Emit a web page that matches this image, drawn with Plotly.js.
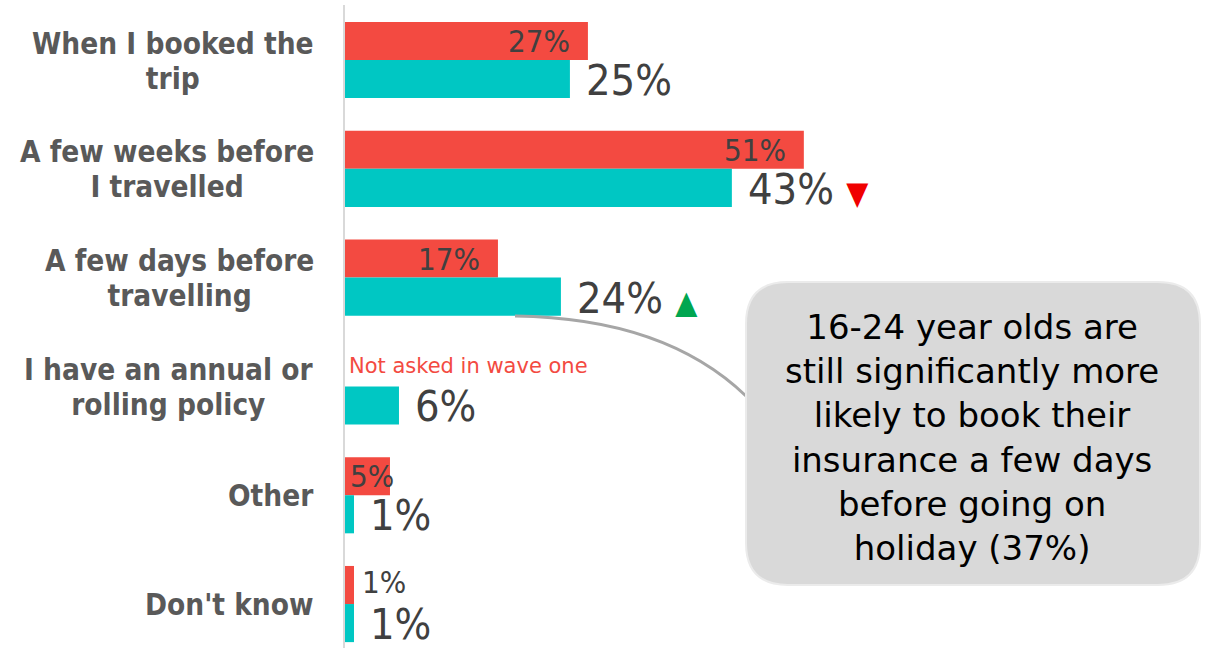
<!DOCTYPE html>
<html>
<head>
<meta charset="utf-8">
<script src="https://cdn.plot.ly/plotly-3.0.1.min.js"></script>
<style>html,body{margin:0;padding:0;background:#fff;}#chart{width:1206px;height:648px;}</style>
</head>
<body>
<div id="chart"></div>
<script>
// ---- data ----
const categories = ["When I booked the trip", "A few weeks before I travelled", "A few days before travelling", "I have an annual or rolling policy", "Other", "Don't know"];
const tickLabels = [["When I booked the", "trip"], ["A few weeks before", "I travelled"], ["A few days before", "travelling"], ["I have an annual or", "rolling policy"], ["Other"], ["Don't know"]];
const wave1 = [27, 51, 17, null, 5, 1];
const wave2 = [25, 43, 24, 6, 1, 1];
const sigFlags = ["", "down", "up", "", "", ""];
const notAskedText = "Not asked in wave one";
const calloutLines = ["16-24 year olds are", "still significantly more", "likely to book their", "insurance a few days", "before going on", "holiday (37%)"];

const RED = "#F34A41", TEAL = "#00C7C3", LABEL = "#404040";
const FONT = "DejaVu Sans Condensed, DejaVu Sans, sans-serif";
const FONT_R = "DejaVu Sans, sans-serif";

const traces = [
  {type: "bar", orientation: "h", name: "Wave 1", y: categories, x: wave1,
   marker: {color: RED}, hoverinfo: "x"},
  {type: "bar", orientation: "h", name: "Wave 2", y: categories, x: wave2,
   marker: {color: TEAL}, hoverinfo: "x"}
];

const annotations = [];
categories.forEach((c, i) => {
  // category label (centered multi-line, right edge near axis)
  annotations.push({
    xref: "paper", yref: "y", x: 0, y: c, xanchor: "right", yanchor: "middle",
    xshift: -29, yshift: -1, align: "center", showarrow: false,
    text: tickLabels[i].map(s => `<span style="font-size:29.5px">${s}</span>`).join("<br>"),
    font: {family: FONT, size: 27, color: "#595959", weight: "bold"}
  });
  const v1 = wave1[i];
  if (v1 !== null) {
    const small = v1 < 8;
    annotations.push({
      xref: "x", yref: "y", x: small ? 0 : v1, y: c,
      xanchor: small ? "left" : "right", yanchor: "middle",
      xshift: small ? (v1 < 3 ? 15 : 3) : -16, yshift: small && v1 < 3 ? 22 : 19,
      text: v1 + "%", showarrow: false,
      font: {family: FONT, size: 31, color: LABEL}
    });
  } else {
    annotations.push({
      xref: "x", yref: "y", x: 0, y: c, xanchor: "left", yanchor: "middle",
      xshift: 2, yshift: 20, text: notAskedText, showarrow: false,
      font: {family: FONT_R, size: 21, color: RED}
    });
  }
  const v2 = wave2[i];
  let t = v2 + "%";
  if (sigFlags[i] === "down") t += " <span style='color:#F00000;font-size:32px'>▼</span>";
  if (sigFlags[i] === "up") t += " <span style='color:#00A650;font-size:32px'>▲</span>";
  annotations.push({
    xref: "x", yref: "y", x: v2, y: c, xanchor: "left", yanchor: "middle",
    xshift: 14, yshift: -20, text: t, showarrow: false,
    font: {family: FONT, size: 43, color: LABEL}
  });
});

// callout geometry (paper coords of plot area)
const W = 861, H = 643, L = 345, T = 5;
const px = x => (x - L) / W, py = y => 1 - (y - T) / H;
annotations.push({
  xref: "paper", yref: "paper", x: px(972), y: py(437), xanchor: "center", yanchor: "middle",
  text: calloutLines.join("<br>"),
  showarrow: false, align: "center",
  font: {family: FONT_R, size: 34, color: "#000"}
});

function roundRect(x0, y0, x1, y1, r) {
  const rx = r / W, ry = r / H;
  const a = px(x0), b = px(x1), top = py(y0), bot = py(y1);
  return `M ${a + rx} ${top} L ${b - rx} ${top} Q ${b} ${top} ${b} ${top - ry} ` +
         `L ${b} ${bot + ry} Q ${b} ${bot} ${b - rx} ${bot} L ${a + rx} ${bot} ` +
         `Q ${a} ${bot} ${a} ${bot + ry} L ${a} ${top - ry} Q ${a} ${top} ${a + rx} ${top} Z`;
}

const shapes = [
  {type: "path", xref: "paper", yref: "paper",
   path: `M ${px(515)} ${py(316)} Q ${px(665)} ${py(318)} ${px(746)} ${py(396)}`,
   line: {color: "#A6A6A6", width: 3}},
  {type: "path", xref: "paper", yref: "paper", path: roundRect(746, 282, 1200, 585, 42),
   fillcolor: "#D9D9D9", line: {color: "#EBEBEB", width: 2}, layer: "above"}
];

const layout = {
  width: 1206, height: 648,
  margin: {l: 345, r: 0, t: 5, b: 0},
  paper_bgcolor: "#fff", plot_bgcolor: "#fff",
  showlegend: false,
  barmode: "group", bargap: 0.30, bargroupgap: 0,
  font: {family: FONT},
  xaxis: {range: [0, 95.7], showgrid: false, zeroline: false, showticklabels: false,
          showline: false, fixedrange: true},
  yaxis: {type: "category", range: [5.404, -0.5055], showticklabels: false,
          showgrid: false, zeroline: false, showline: true, linecolor: "#D9D9D9", linewidth: 2,
          ticks: ""},
  annotations: annotations,
  shapes: shapes
};

Plotly.newPlot("chart", traces, layout, {displayModeBar: false, staticPlot: true});
</script>
</body>
</html>
